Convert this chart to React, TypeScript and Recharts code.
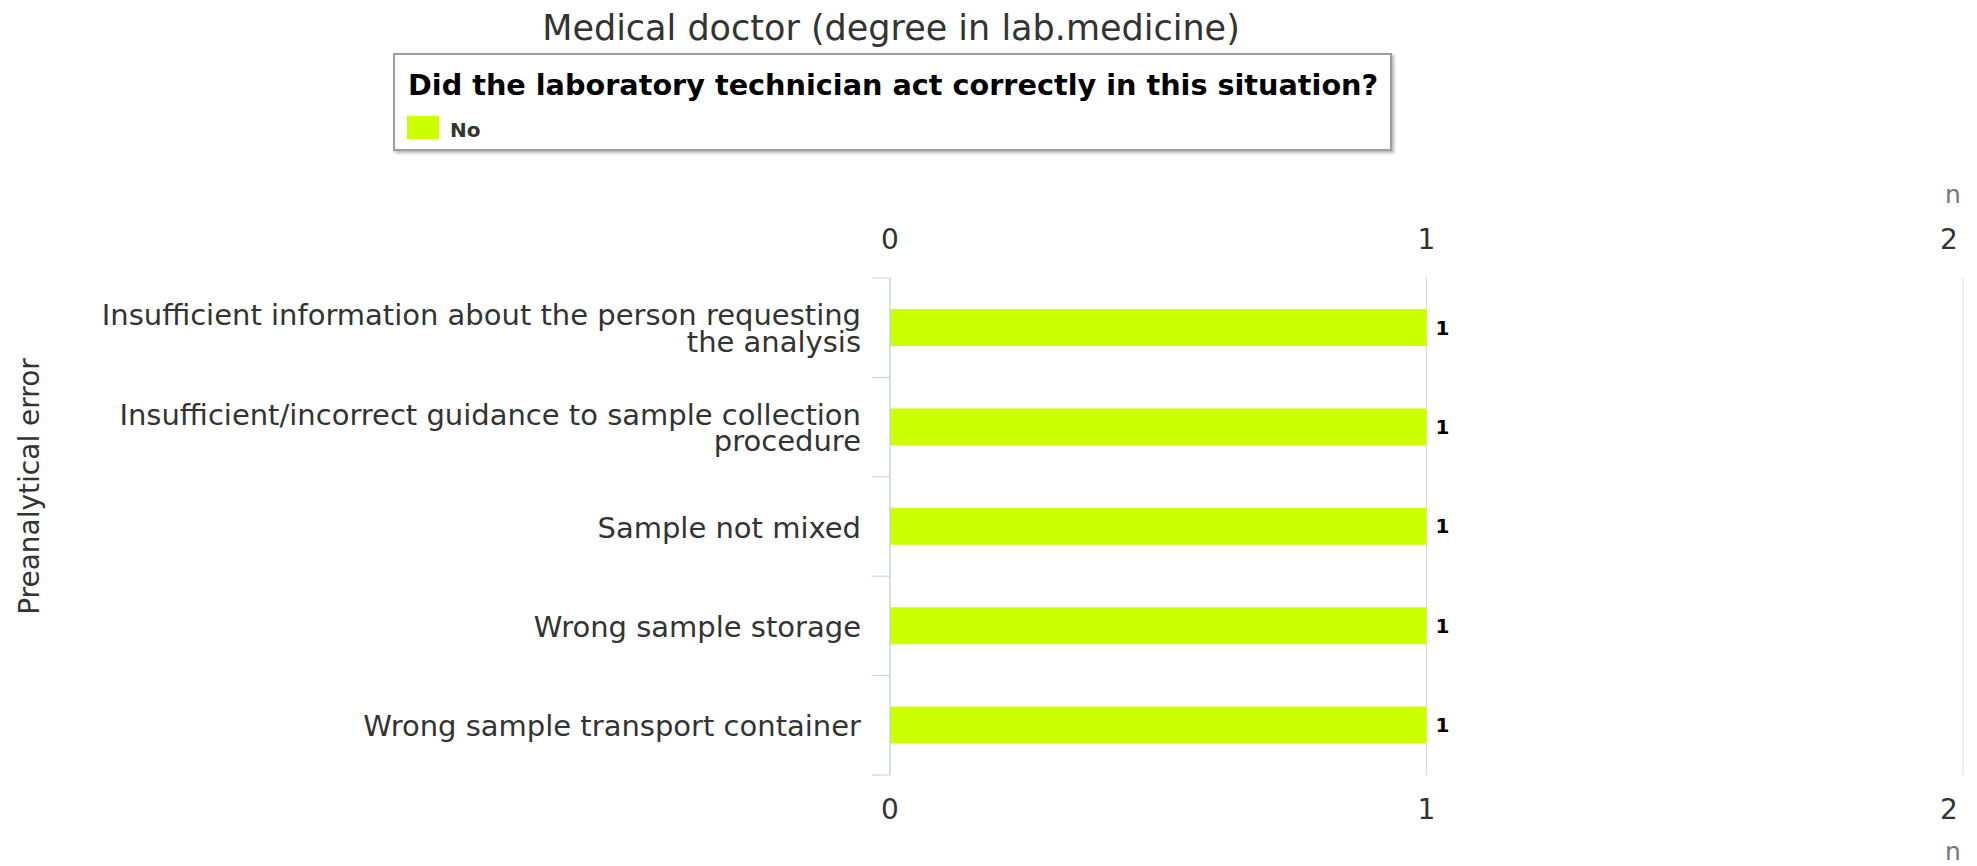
import React from "react";
import {
  BarChart,
  Bar,
  XAxis,
  YAxis,
  CartesianGrid,
  LabelList,
  Label,
} from "recharts";

const categories = [
  "Insufficient information about the person requesting the analysis",
  "Insufficient/incorrect guidance to sample collection procedure",
  "Sample not mixed",
  "Wrong sample storage",
  "Wrong sample transport container",
];
const noCounts = [1, 1, 1, 1, 1];
const xTicks = [0, 1, 2];
const seriesName = "No";
const chartTitle = "Medical doctor (degree in lab.medicine)";
const legendTitle =
  "Did the laboratory technician act correctly in this situation?";
const axisTitle = "Preanalytical error";
const unitLabel = "n";

const CHART_W = 1977;
const CHART_H = 866;
const FONT = "'DejaVu Sans', Verdana, sans-serif";
const AXIS_COLOR = "#C0D0E0";
const GRID_COLOR = "#D9D9D9";
const BAR_COLOR = "#CCFF00";
const TEXT_COLOR = "#333333";
const LABEL_GAP = 29; // space between axis line and category text
const TICK_LEN = 18;
const LINE_H = 26.5;

function wrap(text: string, maxChars: number) {
  const words = text.split(" ");
  const lines: string[] = [];
  let cur = "";
  for (const w of words) {
    const next = cur ? cur + " " + w : w;
    if (next.length > maxChars && cur) {
      lines.push(cur);
      cur = w;
    } else {
      cur = next;
    }
  }
  if (cur) lines.push(cur);
  return lines;
}

function CategoryTick(props: any) {
  const { x, y, payload, index, visibleTicksCount } = props;
  const half =
    typeof payload?.offset === "number" && payload.offset > 0
      ? payload.offset
      : 497 / categories.length / 2;
  const axisX = x + LABEL_GAP;
  const lines = wrap(String(payload.value), 53);
  const first = -((lines.length - 1) / 2) * LINE_H + 11;
  const isLast = index === (visibleTicksCount ?? categories.length) - 1;
  return (
    <g>
      <line
        x1={axisX - TICK_LEN}
        x2={axisX}
        y1={y - half}
        y2={y - half}
        stroke={AXIS_COLOR}
        strokeWidth={1}
      />
      {isLast && (
        <line
          x1={axisX - TICK_LEN}
          x2={axisX}
          y1={y + half}
          y2={y + half}
          stroke={AXIS_COLOR}
          strokeWidth={1}
        />
      )}
      <text
        x={x}
        y={y}
        textAnchor="end"
        fontSize={29}
        fill={TEXT_COLOR}
        fontFamily={FONT}
      >
        {lines.map((l, i) => (
          <tspan key={i} x={x} dy={i === 0 ? first : LINE_H}>
            {l}
          </tspan>
        ))}
      </text>
    </g>
  );
}

// keeps the last label inside the chart, like the original does
function clampX(x: number) {
  return Math.min(x, CHART_W - 28);
}

function TopTick(props: any) {
  const { x, y, payload } = props;
  return (
    <text
      x={clampX(x)}
      y={y}
      textAnchor="middle"
      fontSize={28}
      fill={TEXT_COLOR}
      fontFamily={FONT}
    >
      {payload.value}
    </text>
  );
}

function BottomTick(props: any) {
  const { x, y, payload } = props;
  return (
    <text
      x={clampX(x)}
      y={y + 20}
      textAnchor="middle"
      fontSize={28}
      fill={TEXT_COLOR}
      fontFamily={FONT}
    >
      {payload.value}
    </text>
  );
}

function UnitLabel({ viewBox, dy }: any) {
  if (!viewBox) return null;
  return (
    <text
      x={viewBox.x + viewBox.width - 10}
      y={viewBox.y + dy}
      textAnchor="middle"
      fontSize={25}
      fill="#777"
      fontFamily={FONT}
    >
      {unitLabel}
    </text>
  );
}

function YTitle({ viewBox }: any) {
  if (!viewBox) return null;
  const cx = viewBox.x + 39;
  const cy = viewBox.y + viewBox.height / 2 - 40;
  return (
    <text
      x={cx}
      y={cy}
      transform={`rotate(-90, ${cx}, ${cy})`}
      textAnchor="middle"
      fontSize={28}
      fill={TEXT_COLOR}
      fontFamily={FONT}
    >
      {axisTitle}
    </text>
  );
}

export default function App() {
  const data = categories.map((name, i) => ({ name, no: noCounts[i] }));

  return (
    <div
      style={{
        position: "absolute",
        left: 0,
        top: 0,
        width: CHART_W,
        height: CHART_H,
        background: "#fff",
        fontFamily: FONT,
        overflow: "hidden",
      }}
    >
      <BarChart
        width={CHART_W}
        height={CHART_H}
        data={data}
        layout="vertical"
        margin={{ top: 178, right: 14, bottom: 0, left: 0 }}
        barCategoryGap={0}
      >
        <CartesianGrid
          horizontal={false}
          stroke={GRID_COLOR}
          strokeDasharray=""
        />
        <XAxis
          xAxisId="top"
          type="number"
          orientation="top"
          domain={[0, 2]}
          ticks={xTicks}
          allowDataOverflow
          height={100}
          tickLine={false}
          axisLine={false}
          tickSize={0}
          tickMargin={29}
          tick={<TopTick />}
        >
          <Label content={(p: any) => <UnitLabel {...p} dy={25} />} />
        </XAxis>
        <XAxis
          type="number"
          orientation="bottom"
          domain={[0, 2]}
          ticks={xTicks}
          allowDataOverflow
          height={91}
          tickLine={false}
          axisLine={false}
          tickSize={0}
          tickMargin={24}
          tick={<BottomTick />}
        >
          <Label content={(p: any) => <UnitLabel {...p} dy={85} />} />
        </XAxis>
        <YAxis
          type="category"
          dataKey="name"
          width={890}
          interval={0}
          tickLine={false}
          tickSize={0}
          tickMargin={LABEL_GAP}
          axisLine={{ stroke: AXIS_COLOR, strokeWidth: 1 }}
          tick={<CategoryTick />}
        >
          <Label content={(p: any) => <YTitle {...p} />} />
        </YAxis>
        <Bar
          dataKey="no"
          name={seriesName}
          fill={BAR_COLOR}
          barSize={37}
          isAnimationActive={false}
        >
          <LabelList
            dataKey="no"
            position="right"
            offset={9}
            fill="#000"
            fontSize={20}
            fontWeight="bold"
            fontFamily={FONT}
          />
        </Bar>
      </BarChart>

      {/* title */}
      <div
        style={{
          position: "absolute",
          left: 891,
          top: 11,
          transform: "translateX(-50%)",
          whiteSpace: "nowrap",
          fontSize: 35,
          lineHeight: "35px",
          color: TEXT_COLOR,
        }}
      >
        {chartTitle}
      </div>

      {/* legend box */}
      <div
        style={{
          position: "absolute",
          left: 393,
          top: 53,
          width: 999,
          height: 98,
          boxSizing: "border-box",
          border: "2px solid #9e9e9e",
          boxShadow: "2px 2px 3px rgba(0,0,0,0.3)",
          background: "#fff",
        }}
      >
        <div
          style={{
            position: "absolute",
            left: 13,
            top: 15.5,
            fontSize: 28.7,
            lineHeight: "29px",
            fontWeight: "bold",
            color: "#000",
            whiteSpace: "nowrap",
          }}
        >
          {legendTitle}
        </div>
        <div
          style={{
            position: "absolute",
            left: 12,
            top: 61,
            width: 32,
            height: 23,
            background: BAR_COLOR,
          }}
        />
        <div
          style={{
            position: "absolute",
            left: 55,
            top: 65,
            fontSize: 20,
            lineHeight: "20px",
            fontWeight: "bold",
            color: TEXT_COLOR,
          }}
        >
          {seriesName}
        </div>
      </div>
    </div>
  );
}
